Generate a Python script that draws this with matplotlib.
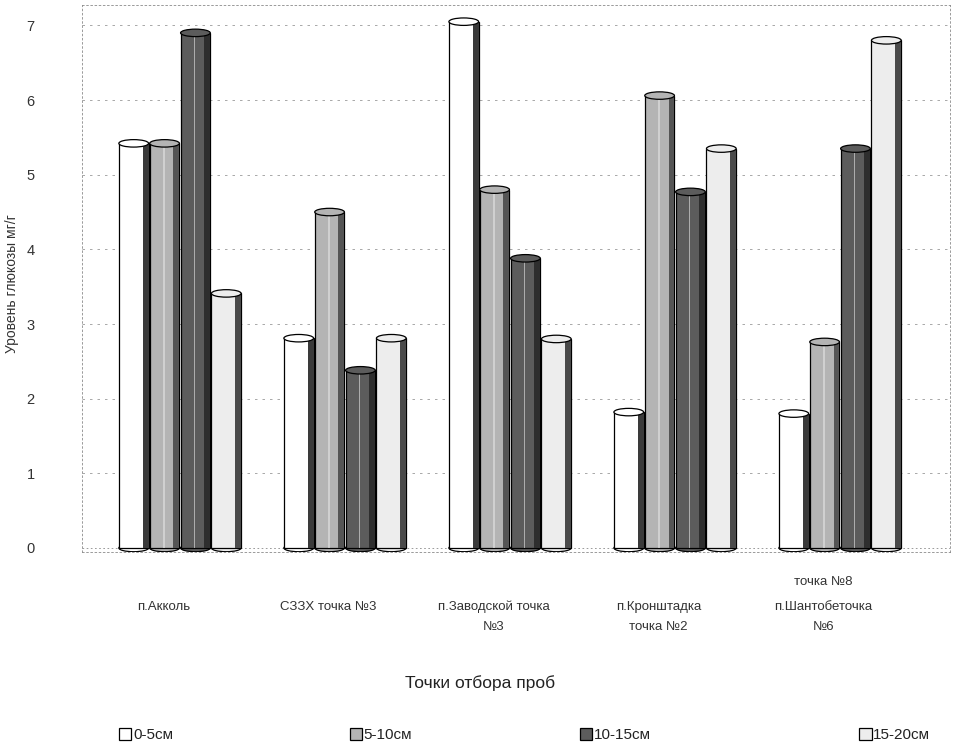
import matplotlib.pyplot as plt
from matplotlib.patches import Ellipse, Rectangle

plt.rcParams["font.family"] = ["Liberation Sans", "DejaVu Sans"]

# Sampling sites and glucose level by depth layer, mg/g
sites = [
    "п.Акколь",
    "СЗЗХ точка №3",
    "п.Заводской точка\n№3",
    "п.Кронштадка\nточка №2",
    "п.Шантобеточка\n№6",
]
depths = ["0-5см", "5-10см", "10-15см", "15-20см"]
layer_0_5 = [5.42, 2.81, 7.05, 1.82, 1.80]
layer_5_10 = [5.42, 4.50, 4.80, 6.06, 2.76]
layer_10_15 = [6.90, 2.38, 3.88, 4.77, 5.35]
layer_15_20 = [3.41, 2.81, 2.80, 5.35, 6.80]
series = [layer_0_5, layer_5_10, layer_10_15, layer_15_20]

face_colors = ["#ffffff", "#b4b4b4", "#5c5c5c", "#ededed"]
side_colors = ["#3a3a3a", "#555555", "#2e2e2e", "#4a4a4a"]

fig = plt.figure(figsize=(9.7, 7.5), dpi=100)
ax = fig.add_axes([0.0845, 0.264, 0.895, 0.729])
ax.set_xlim(-0.594, 4.667)
ax.set_ylim(-0.054, 7.27)

# dashed grid and plot-area frame
for level in range(1, 8):
    ax.axhline(level, color="#9a9a9a", lw=0.6, ls=(0, (3, 6)), zorder=0)
ax.axhline(0, color="#8a8a8a", lw=0.6, ls=(0, (2, 3)), zorder=0)
for side in ["top", "right", "left", "bottom"]:
    ax.spines[side].set_linestyle((0, (2, 3)))
    ax.spines[side].set_color("#8a8a8a")
    ax.spines[side].set_linewidth(0.6)

width = 0.18
step = 0.187
cap_h = 0.10

for j, values in enumerate(series):
    offset = (j - 1.5) * step
    xs = [i + offset for i in range(len(sites))]
    bars = ax.bar(xs, values, width=width, color=face_colors[j],
                  edgecolor="black", linewidth=0.9, zorder=2 + j,
                  label=depths[j])
    for bar, v in zip(bars, values):
        x0 = bar.get_x()
        # shaded right side of the cylinder
        ax.add_patch(Rectangle((x0 + width * 0.8, 0), width * 0.2, v,
                               facecolor=side_colors[j], edgecolor="none",
                               zorder=2 + j))
        # soft highlight strip
        if j in (1, 2):
            ax.add_patch(Rectangle((x0 + width * 0.45, 0), width * 0.05, v,
                                   facecolor="#e4e4e4", edgecolor="none",
                                   alpha=0.6, zorder=2 + j))
        # top and bottom caps
        ax.add_patch(Ellipse((x0 + width / 2, v), width, cap_h,
                             facecolor=face_colors[j], edgecolor="black",
                             linewidth=0.9, zorder=2.5 + j))
        ax.add_patch(Ellipse((x0 + width / 2, 0), width, cap_h,
                             facecolor=face_colors[j], edgecolor="black",
                             linewidth=0.9, zorder=1.9 + j))

ax.set_yticks(range(0, 8))
ax.tick_params(axis="y", length=0, pad=34, labelsize=10.5, labelcolor="#333333")
ax.set_xticks([i - 0.1 for i in range(len(sites))])
ax.set_xticklabels(sites, fontsize=9.5, color="#333333", linespacing=1.9)
ax.tick_params(axis="x", length=0, pad=35)
ax.text(4 - 0.1, -0.38, "точка №8", transform=ax.transData, ha="center",
        va="top", fontsize=9.5, color="#333333", clip_on=False)

ax.set_ylabel("Уровень глюкозы мг/г", fontsize=10, color="#333333",
              labelpad=14)
ax.yaxis.set_label_coords(-0.072, 0.49)
fig.text(0.495, 0.089, "Точки отбора проб", ha="center", va="center",
         fontsize=12.5, color="#222222")

handles, labels = ax.get_legend_handles_labels()
legend_x = [0.115, 0.353, 0.590, 0.878]
for h, lab, lx in zip(handles, labels, legend_x):
    lg = fig.legend([h], [lab], loc="center left", bbox_to_anchor=(lx, 0.02),
                    frameon=False, fontsize=11, handlelength=0.8,
                    handleheight=0.8, handletextpad=0.1, borderpad=0)
    for t in lg.get_texts():
        t.set_color("#222222")

fig.savefig("out.png", dpi=100)
